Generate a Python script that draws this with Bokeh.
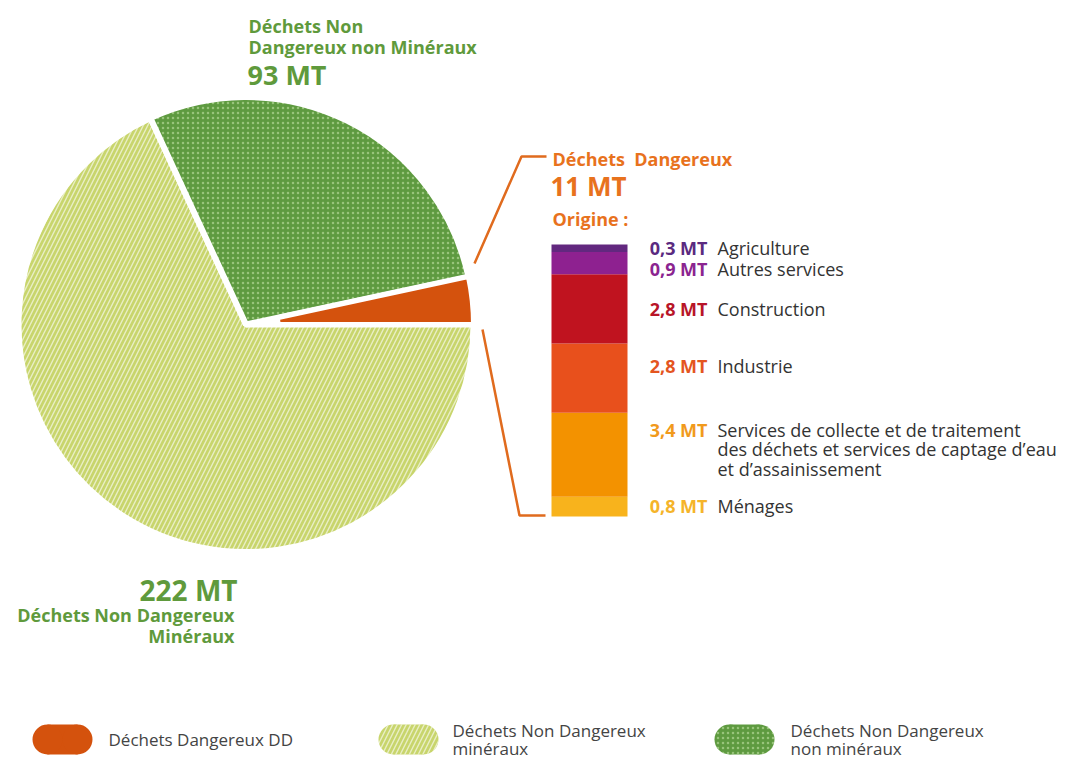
from bokeh.plotting import figure
from bokeh.models import Range1d, ColumnDataSource
from bokeh.core.properties import value
from bokeh.embed import file_html
from bokeh.resources import INLINE
import math

# ---------------- data ----------------
pie_labels = ["Déchets Dangereux", "Déchets Non Dangereux non Minéraux", "Déchets Non Dangereux Minéraux"]
pie_values = [11, 93, 222]  # MT

origin_labels = ["Ménages",
                 "Services de collecte et de traitement\ndes déchets et services de captage d’eau\net d’assainissement",
                 "Industrie", "Construction", "Autres services", "Agriculture"]
origin_values = [0.8, 3.4, 2.8, 2.8, 0.9, 0.3]
origin_colors = ["#f8b31c", "#f39200", "#e8501c", "#c0131f", "#8e2190", "#62287f"]
origin_value_colors = ["#f5b42a", "#f19a1c", "#e4551f", "#b81528", "#8b2490", "#5a2a80"]

legend_labels = ["Déchets Dangereux DD", "Déchets Non Dangereux\nminéraux", "Déchets Non Dangereux\nnon minéraux"]

# ---------------- styles ----------------
W, H = 1056, 761
FONT = value("Open Sans")
GREEN_TXT = "#5f9a3c"
ORANGE_TXT = "#e8721d"
DD_COL = "#d4520d"
LG_COL = "#c8d56c"
DG_COL = "#5e9a40"


def Y(v):  # image row -> data y
    return 777 - v


p = figure(width=W, height=H, output_backend="svg", toolbar_location=None,
           x_range=Range1d(0, W), y_range=Range1d(777 - H, 777),
           min_border=0, outline_line_color=None)
p.axis.visible = False
p.grid.visible = False
p.background_fill_color = "white"
p.border_fill_color = "white"

# ---------------- pie ----------------
cx, cy, R = 245.5, Y(324), 227.5
total = sum(pie_values)
angles = []
acc = 0.0
for v in pie_values:
    a0 = acc / total * 2 * math.pi
    acc += v
    a1 = acc / total * 2 * math.pi
    angles.append((a0, a1))

LG_HATCH = dict(hatch_pattern="/", hatch_color="white", hatch_alpha=0.6, hatch_scale=9, hatch_weight=1.4)
DG_HATCH = dict(hatch_pattern=".", hatch_color="#a8cf8a", hatch_alpha=0.8, hatch_scale=5, hatch_weight=1)

# light green minéraux (diagonal lines)
p.wedge(x=cx, y=cy, radius=R, start_angle=angles[2][0], end_angle=angles[2][1],
        fill_color=LG_COL, line_color="white", line_width=6, **LG_HATCH)
# dark green non minéraux (dots)
p.wedge(x=cx, y=cy, radius=R, start_angle=angles[1][0], end_angle=angles[1][1],
        fill_color=DG_COL, line_color="white", line_width=6, **DG_HATCH)
# DD
p.annular_wedge(x=cx, y=cy, inner_radius=32, outer_radius=R,
                start_angle=angles[0][0], end_angle=angles[0][1],
                fill_color=DD_COL, line_color="white", line_width=5)

# callout lines
p.line(x=[474, 521, 546], y=[Y(263), Y(156), Y(156)], line_color="#e06b1e", line_width=2.5)
p.line(x=[482, 519, 545], y=[Y(329), Y(515), Y(515)], line_color="#e06b1e", line_width=2.5)

# ---------------- stacked bar (own MT scale) ----------------
k = 272 / sum(origin_values)          # px per MT
base = Y(516)
p.extra_y_ranges = {"mt": Range1d(start=(777 - H - base) / k, end=(777 - base) / k)}
bottoms, tops = [], []
acc = 0.0
for v in origin_values:
    bottoms.append(acc)
    acc += v
    tops.append(acc)
src = ColumnDataSource(dict(bottom=bottoms, top=tops, color=origin_colors))
p.quad(left=551, right=627, bottom="bottom", top="top", fill_color="color",
       line_color=None, source=src, y_range_name="mt")


def t(x, row, s, size, color, bold=True, align="left"):
    p.text(x=[x], y=[Y(row)], text=[s], text_font=FONT, text_font_style="bold" if bold else "normal",
           text_font_size=size, text_color=color, text_align=align, text_baseline="middle")


# bar labels
label_rows = [505, 429, 365, 308, 268, 247]
for lab, v, vc, row in zip(origin_labels, origin_values, origin_value_colors, label_rows):
    txt = f"{v:.1f}".replace(".", ",") + " MT"
    t(707, row, txt, "18px", vc, align="right")
    for i, line in enumerate(lab.split("\n")):
        t(717, row + 19.5 * i, line, "18px", "#333333", bold=False)

# ---------------- pie labels ----------------
t(248, 25, "Déchets Non", "18px", GREEN_TXT)
t(248, 46, "Dangereux non Minéraux", "18px", GREEN_TXT)
t(247, 74, f"{pie_values[1]} MT", "27px", GREEN_TXT)

t(552, 158, "Déchets\u00a0 Dangereux", "18px", ORANGE_TXT)
t(550, 185, f"{pie_values[0]} MT", "26px", ORANGE_TXT)
t(552, 218, "Origine :", "18px", ORANGE_TXT)

t(237, 589, f"{pie_values[2]} MT", "28px", GREEN_TXT, align="right")
t(234, 614, "Déchets Non Dangereux", "18px", GREEN_TXT, align="right")
t(234, 635, "Minéraux", "18px", GREEN_TXT, align="right")

# ---------------- legend ----------------
leg_row = 739
leg_x = [62, 408, 744]
leg_fill = [DD_COL, LG_COL, DG_COL]
leg_hatch = [None, LG_HATCH, DG_HATCH]
leg_text_x = [108, 452, 790]
for x0, fc, hk, lab, tx in zip(leg_x, leg_fill, leg_hatch, legend_labels, leg_text_x):
    kw = hk or {}
    p.rect(x=x0, y=Y(leg_row), width=30, height=30, fill_color=fc, line_color=None, **kw)
    p.ellipse(x=[x0 - 15, x0 + 15], y=[Y(leg_row)] * 2, width=30, height=30,
              fill_color=fc, line_color=None, **kw)
    lines = lab.split("\n")
    if len(lines) == 1:
        t(tx, leg_row, lines[0], "17px", "#444444", bold=False)
    else:
        t(tx, leg_row - 9, lines[0], "17px", "#444444", bold=False)
        t(tx, leg_row + 9, lines[1], "17px", "#444444", bold=False)

open("out.html", "w").write(file_html(p, INLINE))
